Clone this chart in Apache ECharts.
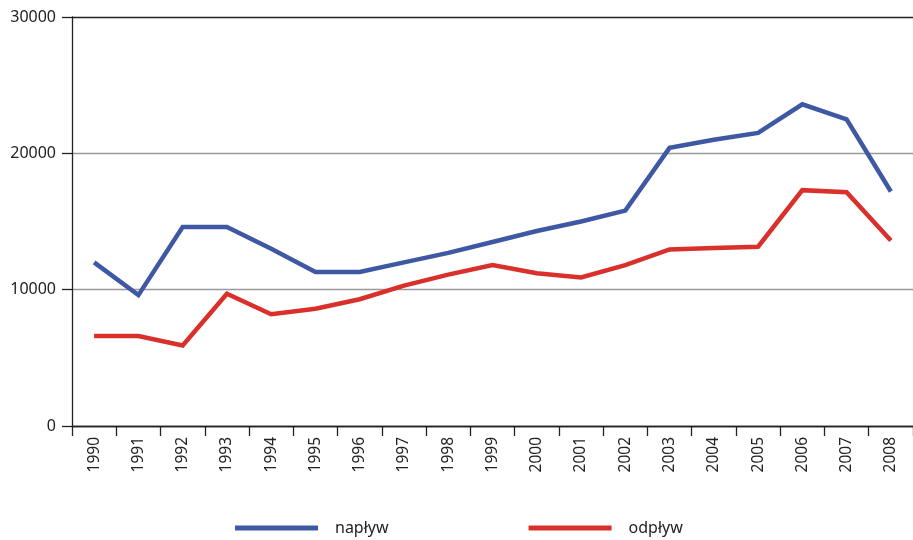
<!DOCTYPE html>
<html>
<head>
<meta charset="utf-8">
<script src="https://cdn.jsdelivr.net/npm/echarts@6/dist/echarts.min.js"></script>
<style>
  html, body { margin: 0; padding: 0; background: #fff; }
  #main { width: 913px; height: 540px; }
</style>
</head>
<body>
<div id="main"></div>
<script>
// dane z wykresu
var years = ['1990', '1991', '1992', '1993', '1994', '1995', '1996', '1997', '1998', '1999',
             '2000', '2001', '2002', '2003', '2004', '2005', '2006', '2007', '2008'];
var naplyw = [12000, 9600, 14600, 14600, 13000, 11300, 11300, 12000, 12700, 13500,
              14300, 15000, 15800, 20400, 21000, 21500, 23600, 22500, 17200];
var odplyw = [6600, 6600, 5900, 9700, 8200, 8600, 9300, 10300, 11100, 11800,
              11200, 10900, 11800, 12950, 13050, 13150, 17300, 17150, 13600];
var yTicks = [0, 10000, 20000, 30000];

var myChart = echarts.init(document.getElementById('main'));

var font = 'Noto Sans';

option = {
    animation: false,
    textStyle: { fontFamily: font },
    grid: {
        left: 72,
        right: -6,
        top: 17,
        bottom: 114
    },
    legend: {
        left: 230,
        top: 515,
        itemWidth: 83,
        itemHeight: 5,
        itemGap: 140,
        icon: 'rect',
        textStyle: { fontFamily: font, fontSize: 16, color: '#222', padding: [0, 0, 0, 12] },
        data: ['napływ', 'odpływ']
    },
    xAxis: {
        type: 'category',
        boundaryGap: true,
        data: years,
        axisLine: { lineStyle: { color: '#222', width: 1.3 } },
        axisTick: { show: true, length: 10, lineStyle: { color: '#222', width: 1.3 } },
        axisLabel: {
            rotate: 90,
            margin: 11,
            fontSize: 15.5,
            color: '#222',
            fontFamily: font
        }
    },
    yAxis: {
        type: 'value',
        min: yTicks[0],
        max: yTicks[yTicks.length - 1],
        interval: 10000,
        axisLine: { show: true, lineStyle: { color: '#222', width: 1.3 } },
        axisTick: { show: true, length: 10, lineStyle: { color: '#222', width: 1.3 } },
        axisLabel: {
            fontSize: 16,
            color: '#222',
            margin: 16,
            fontFamily: font,
            formatter: function (v) { return String(v); }
        },
        splitLine: { show: true, lineStyle: { color: ['#222', '#999', '#999', '#222'], width: 1.3 } }
    },
    series: [
        {
            name: 'napływ',
            type: 'line',
            data: naplyw,
            symbol: 'none',
            color: '#3f58a3',
            lineStyle: { width: 4.5, color: '#3f58a3', join: 'miter' }
        },
        {
            name: 'odpływ',
            type: 'line',
            data: odplyw,
            symbol: 'none',
            color: '#d9302c',
            lineStyle: { width: 4.5, color: '#d9302c', join: 'miter' }
        }
    ]
};

myChart.setOption(option);
</script>
</body>
</html>
